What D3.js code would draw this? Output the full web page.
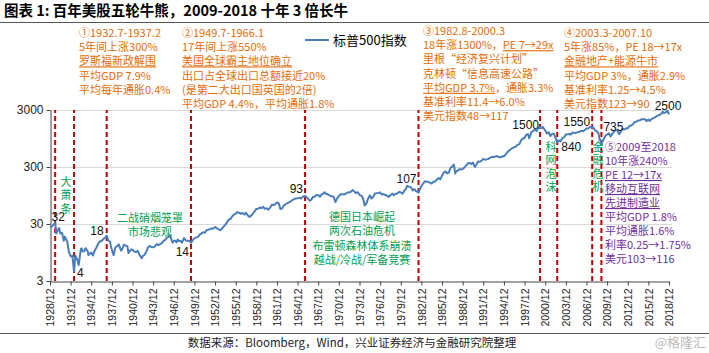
<!DOCTYPE html>
<html>
<head>
<meta charset="utf-8">
<script src="https://cdn.jsdelivr.net/npm/d3@7"></script>
<style>
  body { margin: 0; background: #fff; }
  svg { display: block; }
  text { font-family: "Noto Sans CJK SC", "Liberation Sans", sans-serif; }
  .num { font-family: "Liberation Sans", "Noto Sans CJK SC", sans-serif; }
</style>
</head>
<body>
<div id="chart"></div>
<script>
// S&P 500 (month, level)
const spx = [
  ["1928-12",26],["1929-03",27],["1929-06",29],["1929-09",31.9],["1929-11",20.5],["1929-12",21.5],
  ["1930-03",25],["1930-04",25.5],["1930-06",20.5],["1930-09",21],["1930-12",15.3],
  ["1931-02",18],["1931-06",14.8],["1931-09",9.7],["1931-12",8.1],
  ["1932-03",8.3],["1932-06",4.4],["1932-08",8.4],["1932-09",8.1],["1932-12",6.9],
  ["1933-02",5.7],["1933-04",8],["1933-06",11],["1933-07",11.2],["1933-09",9.9],["1933-12",10.1],
  ["1934-02",11.3],["1934-06",9.9],["1934-07",8.6],["1934-09",8.9],["1934-12",9.5],
  ["1935-03",8.4],["1935-06",10.2],["1935-09",11.6],["1935-12",13.4],
  ["1936-03",15],["1936-06",15],["1936-09",16.3],["1936-12",17.2],
  ["1937-02",18.1],["1937-03",18.7],["1937-06",15.2],["1937-09",14.6],["1937-10",12.3],["1937-12",10.6],
  ["1938-03",8.5],["1938-06",11.6],["1938-09",12.2],["1938-12",13.2],
  ["1939-03",11],["1939-04",10.2],["1939-06",10.9],["1939-09",13],["1939-12",12.5],
  ["1940-03",12.2],["1940-05",9.3],["1940-06",9.6],["1940-09",10.7],["1940-12",10.6],
  ["1941-03",9.9],["1941-06",9.6],["1941-09",10.2],["1941-12",8.7],
  ["1942-04",7.5],["1942-06",8.2],["1942-09",8.7],["1942-12",9.8],
  ["1943-03",11.6],["1943-06",12.4],["1943-09",11.8],["1943-12",11.7],
  ["1944-03",12.1],["1944-06",13.3],["1944-09",12.8],["1944-12",13.3],
  ["1945-03",13.9],["1945-06",15.1],["1945-09",15.8],["1945-12",17.4],
  ["1946-02",17.5],["1946-05",19.2],["1946-06",18.4],["1946-09",14.8],["1946-10",14.1],["1946-12",15.3],
  ["1947-03",15.2],["1947-05",14.3],["1947-07",16],["1947-09",15.1],["1947-12",15.3],
  ["1948-02",14.1],["1948-06",17],["1948-09",15.5],["1948-12",15.2],
  ["1949-03",15.1],["1949-06",14],["1949-09",15.6],["1949-12",16.8],
  ["1950-03",17.3],["1950-06",17.7],["1950-09",19.5],["1950-12",20.4],
  ["1951-03",21.5],["1951-06",21],["1951-09",23.3],["1951-12",23.8],
  ["1952-03",24.4],["1952-06",25],["1952-09",25],["1952-12",26.6],
  ["1953-03",25.3],["1953-06",24.1],["1953-09",23.4],["1953-12",24.8],
  ["1954-03",26.9],["1954-06",29.2],["1954-09",32.3],["1954-12",36],
  ["1955-03",36.6],["1955-06",41],["1955-09",43.7],["1955-12",45.5],
  ["1956-03",48.5],["1956-06",46.9],["1956-09",45.4],["1956-12",46.7],
  ["1957-03",44.1],["1957-06",47.4],["1957-09",42.4],["1957-12",40],
  ["1958-03",42.1],["1958-06",45.2],["1958-09",50.1],["1958-12",55.2],
  ["1959-03",55.4],["1959-06",58.5],["1959-09",56.9],["1959-12",59.9],
  ["1960-03",55.3],["1960-06",56.9],["1960-09",53.5],["1960-12",58.1],
  ["1961-03",65.1],["1961-06",64.6],["1961-09",66.7],["1961-12",71.6],
  ["1962-03",69.6],["1962-06",54.8],["1962-09",56.3],["1962-12",63.1],
  ["1963-03",66.6],["1963-06",69.4],["1963-09",71.7],["1963-12",75],
  ["1964-03",79],["1964-06",81.7],["1964-09",84.2],["1964-12",84.8],
  ["1965-03",86.2],["1965-06",84.1],["1965-09",90],["1965-12",92.4],
  ["1966-01",92.9],["1966-03",89.2],["1966-06",84.7],["1966-09",76.6],["1966-12",80.3],
  ["1967-03",90.2],["1967-06",90.6],["1967-09",96.7],["1967-12",96.5],
  ["1968-03",90.2],["1968-06",99.6],["1968-09",102.7],["1968-11",108.4],["1968-12",103.9],
  ["1969-03",101.5],["1969-06",97.7],["1969-09",93.1],["1969-12",92.1],
  ["1970-03",89.6],["1970-06",72.7],["1970-09",84.3],["1970-12",92.2],
  ["1971-03",100.3],["1971-06",99.7],["1971-09",98.3],["1971-12",102.1],
  ["1972-03",107.2],["1972-06",107.1],["1972-09",110.6],["1972-12",118.1],
  ["1973-03",111.5],["1973-06",104.3],["1973-09",108.4],["1973-12",97.6],
  ["1974-03",94],["1974-06",86],["1974-09",63.5],["1974-12",68.6],
  ["1975-03",83.4],["1975-06",95.2],["1975-09",83.9],["1975-12",90.2],
  ["1976-03",102.8],["1976-06",104.3],["1976-09",105.2],["1976-12",107.5],
  ["1977-03",98.4],["1977-06",100.5],["1977-09",96.5],["1977-12",95.1],
  ["1978-03",89.2],["1978-06",95.5],["1978-09",102.5],["1978-12",96.1],
  ["1979-03",101.6],["1979-06",102.9],["1979-09",109.3],["1979-12",107.9],
  ["1980-03",102.1],["1980-06",114.2],["1980-09",125.5],["1980-11",140.5],["1980-12",135.8],
  ["1981-03",136],["1981-06",131.2],["1981-09",116.2],["1981-12",122.6],
  ["1982-03",112],["1982-06",109.6],["1982-07",107.1],["1982-09",120.4],["1982-12",140.6],
  ["1983-03",153],["1983-06",168.1],["1983-09",166.1],["1983-12",164.9],
  ["1984-03",159.2],["1984-06",153.2],["1984-09",166.1],["1984-12",167.2],
  ["1985-03",180.7],["1985-06",191.9],["1985-09",182.1],["1985-12",211.3],
  ["1986-03",238.9],["1986-06",250.8],["1986-09",231.3],["1986-12",242.2],
  ["1987-03",291.7],["1987-06",304],["1987-08",329.8],["1987-09",321.8],["1987-11",230.3],["1987-12",247.1],
  ["1988-03",258.9],["1988-06",273.5],["1988-09",271.9],["1988-12",277.7],
  ["1989-03",294.9],["1989-06",318],["1989-09",349.2],["1989-12",353.4],
  ["1990-03",339.9],["1990-06",358],["1990-09",306.1],["1990-10",304],["1990-12",330.2],
  ["1991-03",375.2],["1991-06",371.2],["1991-09",387.9],["1991-12",417.1],
  ["1992-03",403.7],["1992-06",408.1],["1992-09",417.8],["1992-12",435.7],
  ["1993-03",451.7],["1993-06",450.5],["1993-09",458.9],["1993-12",466.5],
  ["1994-03",445.8],["1994-06",444.3],["1994-09",462.7],["1994-12",459.3],
  ["1995-03",500.7],["1995-06",544.8],["1995-09",584.4],["1995-12",615.9],
  ["1996-03",645.5],["1996-06",670.6],["1996-09",687.3],["1996-12",740.7],
  ["1997-03",757.1],["1997-06",885.1],["1997-09",947.3],["1997-12",970.4],
  ["1998-03",1101.8],["1998-06",1133.8],["1998-08",957.3],["1998-09",1017],["1998-12",1229.2],
  ["1999-03",1286.4],["1999-06",1372.7],["1999-09",1282.7],["1999-12",1469.3],
  ["2000-03",1498.6],["2000-06",1454.6],["2000-08",1517.7],["2000-09",1436.5],["2000-12",1320.3],
  ["2001-03",1160.3],["2001-06",1224.4],["2001-09",1040.9],["2001-12",1148.1],
  ["2002-03",1147.4],["2002-06",989.8],["2002-07",911.6],["2002-09",815.3],["2002-12",879.8],
  ["2003-03",848.2],["2003-06",974.5],["2003-09",996],["2003-12",1111.9],
  ["2004-03",1126.2],["2004-06",1140.8],["2004-09",1114.6],["2004-12",1211.9],
  ["2005-03",1180.6],["2005-06",1191.3],["2005-09",1228.8],["2005-12",1248.3],
  ["2006-03",1294.8],["2006-06",1270.2],["2006-09",1335.9],["2006-12",1418.3],
  ["2007-03",1420.9],["2007-06",1503.4],["2007-09",1526.8],["2007-10",1549.4],["2007-12",1468.4],
  ["2008-03",1322.7],["2008-06",1280],["2008-09",1166.4],["2008-11",896.2],["2008-12",903.3],
  ["2009-02",735.1],["2009-03",797.9],["2009-06",919.3],["2009-09",1057.1],["2009-12",1115.1],
  ["2010-03",1169.4],["2010-06",1030.7],["2010-09",1141.2],["2010-12",1257.6],
  ["2011-03",1325.8],["2011-06",1320.6],["2011-09",1131.4],["2011-12",1257.6],
  ["2012-03",1408.5],["2012-06",1362.2],["2012-09",1440.7],["2012-12",1426.2],
  ["2013-03",1569.2],["2013-06",1606.3],["2013-09",1681.6],["2013-12",1848.4],
  ["2014-03",1872.3],["2014-06",1960.2],["2014-09",1972.3],["2014-12",2058.9],
  ["2015-03",2067.9],["2015-06",2063.1],["2015-09",1920],["2015-12",2043.9],
  ["2016-02",1932.2],["2016-06",2098.9],["2016-09",2168.3],["2016-12",2238.8],
  ["2017-03",2362.7],["2017-06",2423.4],["2017-09",2519.4],["2017-12",2673.6],
  ["2018-01",2823.8],["2018-03",2640.9],["2018-06",2718.4],["2018-09",2914],["2018-12",2506.9]
]

const xTickLabels = ["1928/12","1931/12","1934/12","1937/12","1940/12","1943/12","1946/12","1949/12",
  "1952/12","1955/12","1958/12","1961/12","1964/12","1967/12","1970/12","1973/12","1976/12",
  "1979/12","1982/12","1985/12","1988/12","1991/12","1994/12","1997/12","2000/12","2003/12",
  "2006/12","2009/12","2012/12","2015/12","2018/12"]
const yTicks = [3, 30, 300, 3000]

// turning points: month, label
const turnDates = ["1929-09","1932-06","1937-03","1949-06","1966-01","1982-07","2000-03","2002-09","2007-10","2009-02"]
const turnLabels = ["32","4","18","14","93","107","1500","840","1550","735"]
const endLabel = "2500"

const block1 = ["①1932.7-1937.2","5年间上涨300%","罗斯福新政解围","平均GDP 7.9%","平均每年通胀0.4%"]
const block2 = ["②1949.7-1966.1","17年间上涨550%","美国全球霸主地位确立","出口占全球出口总额接近20%","(是第二大出口国英国的2倍)","平均GDP 4.4%，平均通胀1.8%"]
const block3 = ["③1982.8-2000.3","18年涨1300%，PE 7→29x","里根“经济复兴计划”","克林顿“信息高速公路”","平均GDP 3.7%，通胀3.3%","基准利率11.4→6.0%","美元指数48→117"]
const block4 = ["④2003.3-2007.10","5年涨85%，PE 18→17x","金融地产+能源牛市","平均GDP 3%，通胀2.9%","基准利率1.25→4.5%","美元指数123→90"]
const block5 = ["⑤2009至2018","10年涨240%","PE 12→17x","移动互联网","先进制造业","平均GDP 1.8%","平均通胀1.6%","利率0.25→1.75%","美元103→116"]

const width = 709, height = 353
const parse = d3.timeParse("%Y-%m")
const parseTick = d3.timeParse("%Y/%m")

const svg = d3.select("#chart").append("svg")
  .attr("width", width).attr("height", height)
svg.append("rect").attr("width", width).attr("height", height).attr("fill", "#fff")

const x = d3.scaleTime()
  .domain([parse("1928-12"), parse("2018-12")])
  .range([50, 669])
const y = d3.scaleLog()
  .domain([3, 3000])
  .range([281, 110])

// title
svg.append("text")
  .attr("x", 4).attr("y", 16)
  .attr("font-size", 14.5).attr("font-weight", "bold")
  .text("图表 1: 百年美股五轮牛熊，2009-2018 十年 3 倍长牛")
svg.append("line").attr("x1", 0).attr("x2", width).attr("y1", 22.5).attr("y2", 22.5)
  .attr("stroke", "#555").attr("stroke-width", 1)

// grid
svg.append("g").selectAll("line")
  .data(yTicks.slice(1))
  .join("line")
  .attr("x1", 50).attr("x2", 672)
  .attr("y1", d => Math.round(y(d)) + 0.5).attr("y2", d => Math.round(y(d)) + 0.5)
  .attr("stroke", "#d9d9d9")

// y axis
const yAxis = svg.append("g")
  .attr("transform", "translate(50.5,0)")
  .call(d3.axisLeft(y).tickValues(yTicks).tickFormat(d3.format("d")).tickSize(4).tickSizeOuter(0))
yAxis.select(".domain").attr("stroke", "#444")
yAxis.selectAll(".tick line").attr("stroke", "#444")
yAxis.selectAll("text").attr("class", "num").attr("font-size", 12).attr("fill", "#222")

// x axis
const xAxis = svg.append("g")
  .attr("transform", "translate(0,281.5)")
  .call(d3.axisBottom(x).tickValues(xTickLabels.map(parseTick)).tickSize(4).tickSizeOuter(0)
    .tickFormat((d, i) => xTickLabels[i]))
xAxis.select(".domain").attr("stroke", "#444")
xAxis.selectAll(".tick line").attr("stroke", "#444")
xAxis.selectAll("text")
  .attr("class", "num")
  .attr("font-size", 10.5).attr("fill", "#222")
  .attr("text-anchor", "end")
  .attr("transform", "rotate(-90)")
  .attr("x", -7).attr("y", 0).attr("dy", "0.35em")

// dashed turning lines
svg.append("g").selectAll("line")
  .data(turnDates)
  .join("line")
  .attr("x1", d => x(parse(d))).attr("x2", d => x(parse(d)))
  .attr("y1", y(3)).attr("y2", y(3000))
  .attr("stroke", "#c00000").attr("stroke-width", 2)
  .attr("stroke-dasharray", "5,3")

// series
const line = d3.line()
  .x(d => x(parse(d[0])))
  .y(d => y(d[1]))
svg.append("path")
  .datum(spx)
  .attr("d", line)
  .attr("fill", "none")
  .attr("stroke", "#4a7ebb")
  .attr("stroke-width", 2)
  .attr("stroke-linejoin", "round")

// turning point labels
const labelOffsets = [[3,-1,"middle"],[3,5,"start"],[-3,-1,"end"],[-2,13,"end"],[-2,-3,"end"],
  [-2,-9,"end"],[-1,2,"end"],[4,9,"start"],[-2,0,"end"],[2,-14,"start"]]
const valueAt = d => spx.find(p => p[0] === d)[1]
svg.append("g").selectAll("text")
  .data(turnDates)
  .join("text")
  .attr("class", "num")
  .attr("font-size", 12).attr("fill", "#111")
  .attr("x", (d, i) => x(parse(d)) + labelOffsets[i][0])
  .attr("y", (d, i) => y(valueAt(d)) + labelOffsets[i][1])
  .attr("text-anchor", (d, i) => labelOffsets[i][2])
  .text((d, i) => turnLabels[i])
const last = spx[spx.length - 1]
svg.append("text")
  .attr("class", "num")
  .attr("font-size", 12).attr("fill", "#111")
  .attr("x", x(parse(last[0])) - 1).attr("y", y(last[1]) - 4)
  .attr("text-anchor", "middle")
  .text(endLabel)

// legend
svg.append("line").attr("x1", 305).attr("x2", 329).attr("y1", 40).attr("y2", 40)
  .attr("stroke", "#4a7ebb").attr("stroke-width", 2)
svg.append("text").attr("x", 333).attr("y", 45).attr("font-size", 13).text("标普500指数")

// annotation blocks, one text per block; underline = {line: substring}
function block(lines, x0, y0, color, underline, step) {
  const t = svg.append("text").attr("font-size", 11).attr("fill", color)
  lines.forEach((s, i) => {
    const u = underline[i]
    const parts = u === undefined ? [[s, false]]
      : [[s.slice(0, s.indexOf(u)), false], [u, true], [s.slice(s.indexOf(u) + u.length), false]]
    parts.filter(p => p[0].length).forEach((p, j) => {
      const ts = t.append("tspan").text(p[0])
        .style("text-decoration", p[1] ? "underline" : "none")
      if (j === 0) ts.attr("x", x0).attr("y", y0 + i * step)
    })
  })
}
const orange = "#e46c0a", purple = "#7030a0", green = "#00a050"
block(block1, 79, 37, orange, {2: block1[2]}, 14.2)
block(block2, 182, 37, orange, {2: block2[2]}, 14.2)
block(block3, 423, 35, orange, {1: "PE 7→29x", 4: "平均GDP 3.7%"}, 14.2)
block(block4, 564, 37, orange, {2: block4[2]}, 14.2)
block(block5, 605, 151, purple, {2: block5[2], 3: block5[3], 4: block5[4]}, 14)

// green notes, vertical
function vtext(chars, x0, y0) {
  svg.append("text")
    .attr("x", x0).attr("y", y0)
    .attr("font-size", 11).attr("fill", green)
    .style("writing-mode", "vertical-rl")
    .style("letter-spacing", "2.5px")
    .text(chars)
}
vtext("大萧条", 66, 176)
vtext("科网泡沫", 551, 141)
vtext("金融危机", 598, 141)

function ctext(lines, cx, y0, step) {
  const t = svg.append("text").attr("font-size", 11).attr("fill", green).attr("text-anchor", "middle")
  lines.forEach((s, i) => {
    t.append("tspan").attr("x", cx).attr("y", y0 + i * step).text(s)
  })
}
ctext(["二战硝烟笼罩", "市场悲观"], 150, 222, 14)
ctext(["德国日本崛起", "两次石油危机", "布雷顿森林体系崩溃", "越战/冷战/军备竞赛"], 362, 221, 14.3)

// footer
svg.append("line").attr("x1", 0).attr("x2", width).attr("y1", 333.5).attr("y2", 333.5)
  .attr("stroke", "#555")
svg.append("text").attr("x", 352).attr("y", 347).attr("text-anchor", "middle")
  .attr("font-size", 11.5).attr("fill", "#222")
  .text("数据来源：Bloomberg，Wind，兴业证券经济与金融研究院整理")
svg.append("text").attr("x", 706).attr("y", 347).attr("text-anchor", "end")
  .attr("font-size", 13).attr("fill", "#bbb")
  .text("@格隆汇")
</script>
</body>
</html>
